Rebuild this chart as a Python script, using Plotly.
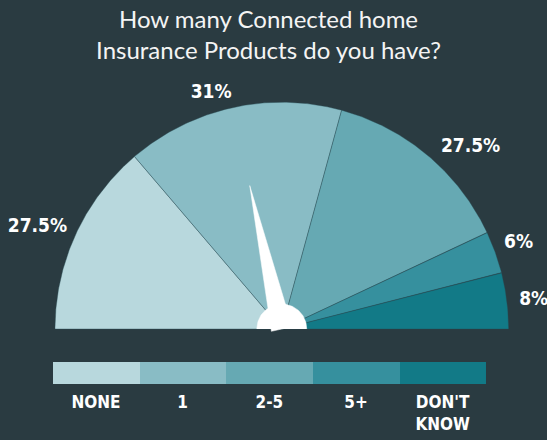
import numpy as np
import plotly.graph_objects as go

# Survey answers and shares (percent)
categories = ["NONE", "1", "2-5", "5+", "DON'T KNOW"]
shares = [27.5, 31, 27.5, 6, 8]
value_labels = ["27.5%", "31%", "27.5%", "6%", "8%"]
legend_ticks = ["NONE", "1", "2-5", "5+", "DON'T<br>KNOW"]

# Styling
colors = ["#b8d8dd", "#89bcc5", "#66a9b3", "#36909e", "#127a87"]
bg = "#2a3b41"
white = "#ffffff"
title_font = "Lato"
label_font = "DejaVu Sans Condensed, Roboto, sans-serif"

# Label placement around the dial (radius factor, angular nudge in degrees)
label_radius = [1.168, 1.085, 1.154, 1.111, 1.118]
label_nudge = [2.05, 4.1, -6.1, 0.2, -0.6]

fig = go.Figure()

# Gauge slices: the half circle runs from 180 deg (left) to 0 deg (right)
total = sum(shares)
cum = np.concatenate([[0], np.cumsum(shares)])
starts = 180 - 180 * cum[:-1] / total
ends = 180 - 180 * cum[1:] / total
for i, cat in enumerate(categories):
    t = np.radians(np.linspace(starts[i], ends[i], 120))
    xs = np.concatenate([[0], np.cos(t), [0]])
    ys = np.concatenate([[0], np.sin(t), [0]])
    fig.add_trace(go.Scatter(
        x=xs, y=ys, mode="lines", fill="toself", fillcolor=colors[i],
        line=dict(color="rgba(40,75,85,0.55)", width=0.7),
        hoverinfo="skip", showlegend=False, name=cat,
    ))

# Needle points at the middle of the largest slice
k = int(np.argmax(shares))
mid = np.radians((starts[k] + ends[k]) / 2)
needle_len = 0.648
half_w = 0.047
perp = mid + np.pi / 2
nx = [needle_len * np.cos(mid), half_w * np.cos(perp), -half_w * np.cos(perp), needle_len * np.cos(mid)]
ny = [needle_len * np.sin(mid), half_w * np.sin(perp), -half_w * np.sin(perp), needle_len * np.sin(mid)]
fig.add_trace(go.Scatter(x=nx, y=ny, mode="lines", fill="toself", fillcolor=white,
                         line=dict(color=white, width=0.5), hoverinfo="skip", showlegend=False))

# Hub
hub_r = 0.11
th = np.linspace(0, np.pi, 100)
fig.add_trace(go.Scatter(x=hub_r * np.cos(th), y=hub_r * np.sin(th), mode="lines", fill="toself",
                         fillcolor=white, line=dict(color=white, width=0.5),
                         hoverinfo="skip", showlegend=False))

# Percentage labels
lab_ang = np.radians((starts + ends) / 2 + np.array(label_nudge))
lx = np.array(label_radius) * np.cos(lab_ang)
ly = np.array(label_radius) * np.sin(lab_ang)
fig.add_trace(go.Scatter(
    x=lx, y=ly, mode="text", text=value_labels, textposition="middle center",
    textfont=dict(family=label_font, size=19, color=white, weight="bold"),
    hoverinfo="skip", showlegend=False, cliponaxis=False,
))

# Colour key bar with category labels below
fig.add_trace(go.Bar(
    x=categories, y=[1] * len(categories), marker=dict(color=colors, line=dict(width=0)),
    width=1, xaxis="x2", yaxis="y2", hoverinfo="skip", showlegend=False,
))

W, H = 547, 440
cx, cy, R = 281.8, 329.0, 226.8
fig.update_layout(
    width=W, height=H,
    margin=dict(l=0, r=0, t=0, b=0),
    paper_bgcolor=bg, plot_bgcolor="rgba(0,0,0,0)",
    title=dict(
        text="How many Connected home<br>Insurance Products do you have?",
        x=268.5 / W, xanchor="center", y=1 - 28 / H, yanchor="top",
        font=dict(family=title_font, size=24, color="#f4f4f4"),
    ),
    xaxis=dict(range=[-cx / R, (W - cx) / R], visible=False, fixedrange=True, domain=[0, 1]),
    yaxis=dict(range=[-(H - cy) / R, cy / R], visible=False, fixedrange=True, domain=[0, 1]),
    xaxis2=dict(
        domain=[52.7 / W, 486 / W], anchor="y2", range=[-0.5, 4.5],
        tickvals=categories, ticktext=legend_ticks, showgrid=False, zeroline=False,
        showline=False, ticks="", ticklabelstandoff=6,
        tickfont=dict(family=label_font, size=17, color=white, weight="bold"),
        fixedrange=True,
    ),
    yaxis2=dict(domain=[(H - 384) / H, (H - 362) / H], anchor="x2", range=[0, 1],
                visible=False, fixedrange=True),
    bargap=0,
)

fig.write_html("out.html")
